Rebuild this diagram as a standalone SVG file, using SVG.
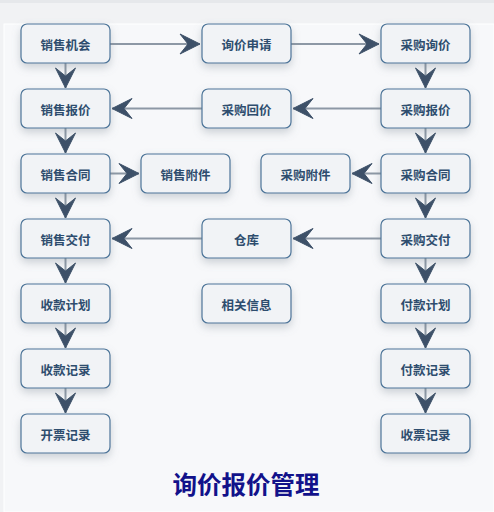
<svg xmlns="http://www.w3.org/2000/svg" width="494" height="512" viewBox="0 0 494 512">
<defs>
<filter id="sh" x="-30%" y="-40%" width="160%" height="190%">
<feDropShadow dx="0" dy="4" stdDeviation="4" flood-color="#7a8490" flood-opacity="0.35"/>
</filter>
<marker id="ah" viewBox="-21 -11 22 22" refX="0" refY="0" markerWidth="22" markerHeight="22" markerUnits="userSpaceOnUse" orient="auto">
<path d="M0 0 L-20 -10 L-12 0 L-20 10 Z" fill="#3d5068" stroke="#3d5068" stroke-width="1" stroke-linejoin="round"/>
</marker>
<style>
.n rect{fill:#f1f3f6;stroke:#4d7599;stroke-width:1.2;filter:url(#sh)}
.n text{font-family:"Noto Sans CJK SC","Noto Sans",sans-serif;font-size:12.5px;font-weight:bold;fill:#2e4d6e;text-anchor:middle;dominant-baseline:central}
#edges line{stroke:#8d98a5;stroke-width:2;marker-end:url(#ah)}
</style>
</defs>
<rect x="0" y="0" width="494" height="512" fill="#f1f2f4"/>
<rect x="0" y="0" width="494" height="3" fill="#e6e8eb"/>
<rect x="4" y="24" width="490" height="488" fill="#f7f8fa" stroke="#ffffff" stroke-width="1"/>
<g id="edges">
<line x1="110" y1="44" x2="200" y2="44"/>
<line x1="291" y1="44" x2="379" y2="44"/>
<line x1="425.5" y1="63" x2="425.5" y2="88"/>
<line x1="381" y1="108.5" x2="293" y2="108.5"/>
<line x1="202" y1="108.5" x2="112" y2="108.5"/>
<line x1="65.5" y1="63" x2="65.5" y2="88"/>
<line x1="65.5" y1="128" x2="65.5" y2="153"/>
<line x1="110" y1="173.5" x2="139" y2="173.5"/>
<line x1="425.5" y1="128" x2="425.5" y2="153"/>
<line x1="381" y1="173.5" x2="352" y2="173.5"/>
<line x1="65.5" y1="193" x2="65.5" y2="218"/>
<line x1="425.5" y1="193" x2="425.5" y2="218"/>
<line x1="381" y1="238.5" x2="293" y2="238.5"/>
<line x1="202" y1="238.5" x2="112" y2="238.5"/>
<line x1="65.5" y1="258" x2="65.5" y2="283"/>
<line x1="65.5" y1="323" x2="65.5" y2="348"/>
<line x1="65.5" y1="388" x2="65.5" y2="413"/>
<line x1="425.5" y1="258" x2="425.5" y2="283"/>
<line x1="425.5" y1="323" x2="425.5" y2="348"/>
<line x1="425.5" y1="388" x2="425.5" y2="413"/>
</g>
<g id="n1" class="n"><rect x="21" y="24" width="89" height="39" rx="6"/><text x="65.5" y="44">销售机会</text></g>
<g id="n2" class="n"><rect x="202" y="24" width="89" height="39" rx="6"/><text x="246.5" y="44">询价申请</text></g>
<g id="n3" class="n"><rect x="381" y="24" width="89" height="39" rx="6"/><text x="425.5" y="44">采购询价</text></g>
<g id="n4" class="n"><rect x="21" y="89" width="89" height="39" rx="6"/><text x="65.5" y="109">销售报价</text></g>
<g id="n5" class="n"><rect x="202" y="89" width="89" height="39" rx="6"/><text x="246.5" y="109">采购回价</text></g>
<g id="n6" class="n"><rect x="381" y="89" width="89" height="39" rx="6"/><text x="425.5" y="109">采购报价</text></g>
<g id="n7" class="n"><rect x="21" y="154" width="89" height="39" rx="6"/><text x="65.5" y="174">销售合同</text></g>
<g id="n8" class="n"><rect x="141" y="154" width="89" height="39" rx="6"/><text x="185.5" y="174">销售附件</text></g>
<g id="n9" class="n"><rect x="261" y="154" width="89" height="39" rx="6"/><text x="305.5" y="174">采购附件</text></g>
<g id="n10" class="n"><rect x="381" y="154" width="89" height="39" rx="6"/><text x="425.5" y="174">采购合同</text></g>
<g id="n11" class="n"><rect x="21" y="219" width="89" height="39" rx="6"/><text x="65.5" y="239">销售交付</text></g>
<g id="n12" class="n"><rect x="202" y="219" width="89" height="39" rx="6"/><text x="246.5" y="239">仓库</text></g>
<g id="n13" class="n"><rect x="381" y="219" width="89" height="39" rx="6"/><text x="425.5" y="239">采购交付</text></g>
<g id="n14" class="n"><rect x="21" y="284" width="89" height="39" rx="6"/><text x="65.5" y="304">收款计划</text></g>
<g id="n15" class="n"><rect x="202" y="284" width="89" height="39" rx="6"/><text x="246.5" y="304">相关信息</text></g>
<g id="n16" class="n"><rect x="381" y="284" width="89" height="39" rx="6"/><text x="425.5" y="304">付款计划</text></g>
<g id="n17" class="n"><rect x="21" y="349" width="89" height="39" rx="6"/><text x="65.5" y="369">收款记录</text></g>
<g id="n18" class="n"><rect x="381" y="349" width="89" height="39" rx="6"/><text x="425.5" y="369">付款记录</text></g>
<g id="n19" class="n"><rect x="21" y="414" width="89" height="39" rx="6"/><text x="65.5" y="434">开票记录</text></g>
<g id="n20" class="n"><rect x="381" y="414" width="89" height="39" rx="6"/><text x="425.5" y="434">收票记录</text></g>
<text x="246" y="494" font-family="Noto Sans CJK SC, sans-serif" font-size="24.5" font-weight="bold" fill="#12128a" text-anchor="middle">询价报价管理</text>
</svg>
